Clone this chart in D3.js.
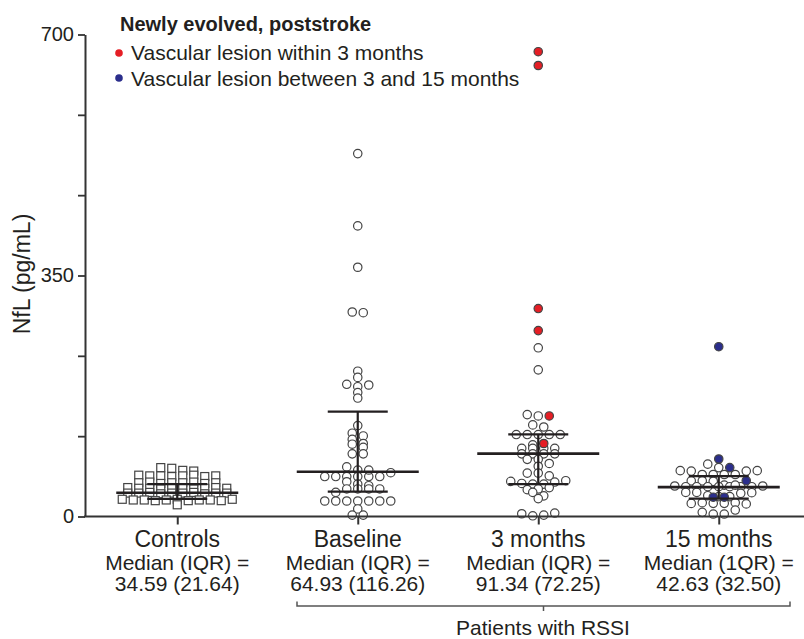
<!DOCTYPE html>
<html>
<head>
<meta charset="utf-8">
<script src="https://cdn.jsdelivr.net/npm/d3@7"></script>
<style>
  body { margin: 0; background: #fff; }
  text { font-family: "Liberation Sans", Arial, sans-serif; fill: #231f20; }
</style>
</head>
<body>
<svg id="chart" width="804" height="639"></svg>
<script>
// groups and labels
const groups = ["Controls", "Baseline", "3 months", "15 months"];
const medianLabels = ["Median (IQR) =", "Median (IQR) =", "Median (IQR) =", "Median (1QR) ="];
const summaryLabels = ["34.59 (21.64)", "64.93 (116.26)", "91.34 (72.25)", "42.63 (32.50)"];
const yTicks = [0, 350, 700];

// median and quartiles
const medians = [34.59, 64.93, 91.34, 42.63];
const q1 = [25.5, 36.0, 47.0, 26.0];
const q3 = [47.1, 152.3, 119.3, 58.5];

// NfL values, pg/mL
const controls = [71, 70, 67, 66, 60, 59, 59, 58, 59, 60, 58, 59, 49, 50, 48, 49, 49, 50, 48, 49,
  42, 41, 41, 40, 42, 41, 40, 41, 42, 41, 34, 34, 35, 33, 34, 34, 35, 33, 34, 34,
  25, 24, 24, 23, 24, 25, 23, 24, 24, 23, 25, 17];
const baseline = [527, 422, 362, 297, 296, 211, 202, 192, 188.5, 191, 180, 172, 132, 121, 117, 112,
  105, 106, 100.5, 91, 91, 72, 67.5, 58, 58, 58, 58, 58, 58, 63.6, 67.5, 50.5, 47, 44.7,
  35, 40, 40, 40, 40, 22.5, 22.5, 22.5, 22.5, 22.5, 22.5, 22.5, 11, 2, 2];
const months3 = [245, 213, 148, 146, 133, 130, 119, 119, 119, 119, 119, 104, 99, 99, 99, 99,
  91, 91, 91, 91, 83, 83, 77, 73, 63, 63, 59, 51, 48, 47, 47, 50, 52, 39, 40, 42, 35, 30, 26,
  4, 1, 2, 5];
const months3Early = [675, 655, 302, 270, 146, 106];
const months15 = [76, 71, 66.6, 65.9, 61, 61, 61, 61, 65.9, 66.6, 51.6, 51.6, 51,
  45.5, 44.3, 43.3, 43.3, 43.3, 43.3, 43.3, 43.3, 43.3, 44.3, 45.5, 35, 35,
  30.2, 28.8, 28.8, 33.7, 34.6, 19, 20, 19.1, 19.1, 20, 18.2, 6, 3.6, 3.6, 9.4];
const months15Late = [246.6, 83.5, 71, 52, 28, 28];

const series = [
  { group: "Controls", values: controls, kind: "control" },
  { group: "Baseline", values: baseline, kind: "open" },
  { group: "3 months", values: months3, kind: "open" },
  { group: "3 months", values: months3Early, kind: "early" },
  { group: "15 months", values: months15, kind: "open" },
  { group: "15 months", values: months15Late, kind: "late" }
];

const fillColor = { control: "#fff", open: "#fff", early: "#e51e25", late: "#2b2e8c" };

const svg = d3.select("#chart");

const y = d3.scaleLinear().domain([0, 700]).range([516.5, 34.5]);
const x = d3.scalePoint().domain(groups).range([87, 809]).padding(0.5);

// flatten
let points = [];
let idx = 0;
series.forEach(s => s.values.forEach(v => points.push({ group: s.group, kind: s.kind, v: v, i: idx++ })));

// row layout, like a column scatter
const spacing = 11;
const rowPx = 4.5;
groups.forEach(g => {
    const pts = points.filter(p => p.group === g).sort((a, b) => b.v - a.v || a.i - b.i);
    const rows = [];
    pts.forEach(p => {
        const last = rows[rows.length - 1];
        if (last && y(p.v) - y(last.top) < rowPx) last.items.push(p);
        else rows.push({ top: p.v, items: [p] });
    });
    rows.forEach(r => {
        r.items.sort((a, b) => a.i - b.i);
        r.items.forEach((p, k) => p.dx = (k - (r.items.length - 1) / 2) * spacing);
    });
});

const g = svg.append("g");

// squares for controls
g.selectAll(".sq")
    .data(points.filter(p => p.kind === "control"))
    .enter().append("rect")
    .attr("x", d => x(d.group) + d.dx - 4)
    .attr("y", d => y(d.v) - 4)
    .attr("width", 8)
    .attr("height", 8)
    .attr("fill", "#fff")
    .attr("stroke", "#444")
    .attr("stroke-width", 1.2);

// circles
g.selectAll(".dot")
    .data(points.filter(p => p.kind !== "control"))
    .enter().append("circle")
    .attr("cx", d => x(d.group) + d.dx)
    .attr("cy", d => y(d.v))
    .attr("r", 4.2)
    .attr("fill", d => fillColor[d.kind])
    .attr("stroke", "#444")
    .attr("stroke-width", 1.2);

// median + IQR
const stats = groups.map((name, k) => ({ name, med: medians[k], lo: q1[k], hi: q3[k] }));
const sg = g.selectAll(".stat").data(stats).enter().append("g")
    .attr("stroke", "#231f20");
sg.append("line")
    .attr("x1", d => x(d.name) - 61).attr("x2", d => x(d.name) + 61)
    .attr("y1", d => y(d.med)).attr("y2", d => y(d.med))
    .attr("stroke-width", 2.6);
sg.append("line")
    .attr("x1", d => x(d.name) - 30).attr("x2", d => x(d.name) + 30)
    .attr("y1", d => y(d.lo)).attr("y2", d => y(d.lo))
    .attr("stroke-width", 2.3);
sg.append("line")
    .attr("x1", d => x(d.name) - 30).attr("x2", d => x(d.name) + 30)
    .attr("y1", d => y(d.hi)).attr("y2", d => y(d.hi))
    .attr("stroke-width", 2.3);
sg.append("line")
    .attr("x1", d => x(d.name)).attr("x2", d => x(d.name))
    .attr("y1", d => y(d.lo)).attr("y2", d => y(d.hi))
    .attr("stroke-width", 2.2);

// y axis
const minorTicks = d3.range(0, 700.1, 350 / 3);
const yAxis = svg.append("g")
    .attr("transform", "translate(85,0)")
    .call(d3.axisLeft(y).tickValues(minorTicks).tickSize(7).tickSizeOuter(0)
        .tickFormat(d => yTicks.some(t => Math.abs(t - d) < 0.01) ? d3.format("d")(d) : ""));
yAxis.select(".domain").attr("stroke", "#333").attr("stroke-width", 2);
yAxis.selectAll(".tick line").attr("stroke", "#333").attr("stroke-width", 1.8);
yAxis.selectAll(".tick text")
    .attr("x", -11)
    .style("font-family", "'Liberation Sans', Arial, sans-serif")
    .style("font-size", "20px")
    .attr("fill", "#231f20");

// x axis
svg.append("line")
    .attr("x1", 84).attr("x2", 804)
    .attr("y1", 516.5).attr("y2", 516.5)
    .attr("stroke", "#333").attr("stroke-width", 2);
const xAxis = svg.append("g")
    .attr("transform", "translate(0,516.5)")
    .call(d3.axisBottom(x).tickSize(8).tickFormat(""));
xAxis.select(".domain").remove();
xAxis.selectAll(".tick line").attr("stroke", "#333").attr("stroke-width", 2);

// category labels
const lab = svg.append("g").attr("text-anchor", "middle");
lab.selectAll(".name").data(groups).enter().append("text")
    .attr("x", d => x(d)).attr("y", 547)
    .style("font-size", "23px")
    .text(d => d);
lab.selectAll(".med").data(groups).enter().append("text")
    .attr("x", d => x(d)).attr("y", 570)
    .style("font-size", "21px")
    .text((d, k) => medianLabels[k]);
lab.selectAll(".sum").data(groups).enter().append("text")
    .attr("x", d => x(d)).attr("y", 591)
    .style("font-size", "21px")
    .text((d, k) => summaryLabels[k]);

// bracket for patients
svg.append("path")
    .attr("d", "M297,601.5V606H790V601.5M543.5,606V611")
    .attr("fill", "none")
    .attr("stroke", "#555")
    .attr("stroke-width", 1.5);
svg.append("text")
    .attr("x", 543).attr("y", 635)
    .attr("text-anchor", "middle")
    .style("font-size", "21px")
    .text("Patients with RSSI");

// y label
svg.append("text")
    .attr("transform", "translate(30,274) rotate(-90)")
    .attr("text-anchor", "middle")
    .style("font-size", "23px")
    .text("NfL (pg/mL)");

// legend
const legend = svg.append("g");
legend.append("text")
    .attr("x", 120).attr("y", 31)
    .style("font-size", "20px")
    .style("font-weight", "bold")
    .text("Newly evolved, poststroke");
const legendItems = [
    { kind: "early", label: "Vascular lesion within 3 months" },
    { kind: "late", label: "Vascular lesion between 3 and 15 months" }
];
legendItems.forEach((d, k) => {
    legend.append("circle")
        .attr("cx", 119).attr("cy", 53 + k * 25)
        .attr("r", 3.8)
        .attr("fill", fillColor[d.kind]);
    legend.append("text")
        .attr("x", 131).attr("y", 60 + k * 25.5)
        .style("font-size", "21px")
        .text(d.label);
});
</script>
</body>
</html>
